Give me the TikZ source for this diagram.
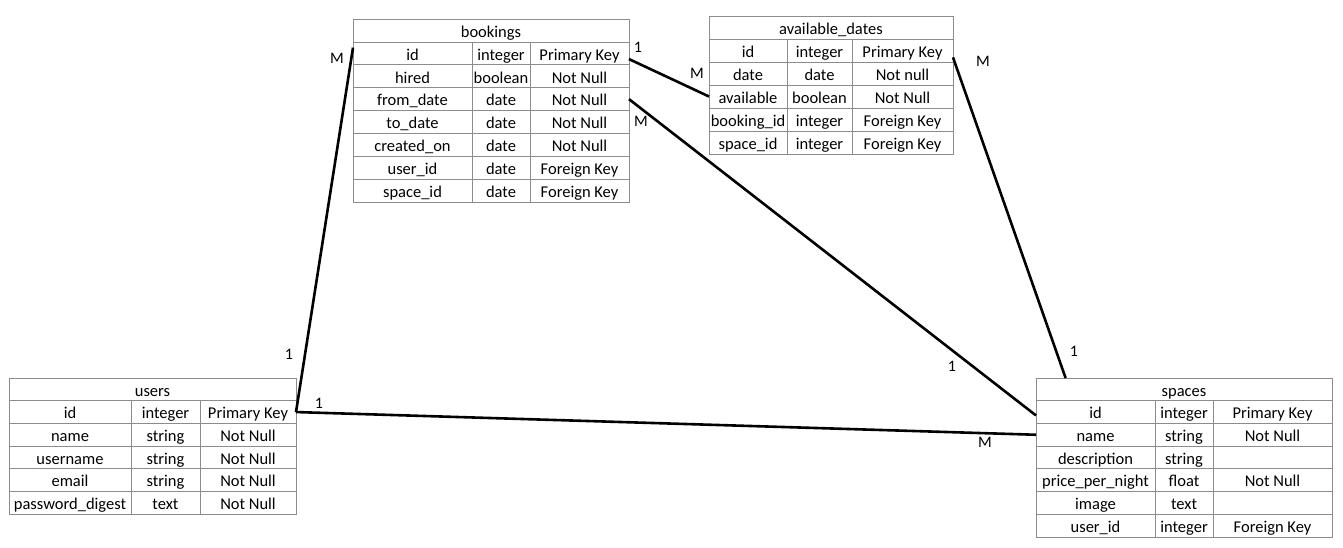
\documentclass[tikz,border=0pt]{standalone}
\usepackage{fontspec}
\setmainfont{Carlito}
\usetikzlibrary{calc}
\tikzset{
 cellbox/.style={draw=black!45, line width=0.8pt, rectangle, inner sep=0pt, outer sep=0pt, font=\fontsize{16.5}{19}\selectfont, text height=15pt, text depth=1.5pt},
 rel/.style={line width=2.6pt, black},
 card/.style={font=\fontsize{16}{19}\selectfont, inner sep=0pt}
}
\newcommand{\dbtitle}[1]{\node[cellbox, anchor=north west, minimum width={(\xD-\xA)*1pt}, minimum height=\tH pt] (\tN-0) at (\xA,\tY) {#1};}
\newcommand{\dbrow}[4]{\pgfmathsetmacro\rY{\tY+#1*\tH}%
 \node[cellbox, anchor=north west, minimum width={(\xB-\xA)*1pt}, minimum height=\tH pt] (\tN-#1-1) at (\xA,\rY) {#2};
 \node[cellbox, anchor=north west, minimum width={(\xC-\xB)*1pt}, minimum height=\tH pt] (\tN-#1-2) at (\xB,\rY) {#3};
 \node[cellbox, anchor=north west, minimum width={(\xD-\xC)*1pt}, minimum height=\tH pt] (\tN-#1-3) at (\xC,\rY) {#4};}
\begin{document}
\begin{tikzpicture}[x=1pt,y=-1pt]
\useasboundingbox (0,0) rectangle (1343,547);
% bookings
\begin{scope}
\def\tN{bookings}\def\xA{353}\def\xB{472}\def\xC{530}\def\xD{629}\def\tY{19}\def\tH{22.9}
\dbtitle{bookings}
\dbrow{1}{id}{integer}{Primary Key}
\dbrow{2}{hired}{boolean}{Not Null}
\dbrow{3}{from\_date}{date}{Not Null}
\dbrow{4}{to\_date}{date}{Not Null}
\dbrow{5}{created\_on}{date}{Not Null}
\dbrow{6}{user\_id}{date}{Foreign Key}
\dbrow{7}{space\_id}{date}{Foreign Key}
\end{scope}
% available_dates
\begin{scope}
\def\tN{available}\def\xA{709}\def\xB{787}\def\xC{852}\def\xD{953}\def\tY{16}\def\tH{23}
\dbtitle{available\_dates}
\dbrow{1}{id}{integer}{Primary Key}
\dbrow{2}{date}{date}{Not null}
\dbrow{3}{available}{boolean}{Not Null}
\dbrow{4}{booking\_id}{integer}{Foreign Key}
\dbrow{5}{space\_id}{integer}{Foreign Key}
\end{scope}
% users
\begin{scope}
\def\tN{users}\def\xA{9}\def\xB{131}\def\xC{200}\def\xD{296}\def\tY{378}\def\tH{22.7}
\dbtitle{users}
\dbrow{1}{id}{integer}{Primary Key}
\dbrow{2}{name}{string}{Not Null}
\dbrow{3}{username}{string}{Not Null}
\dbrow{4}{email}{string}{Not Null}
\dbrow{5}{password\_digest}{text}{Not Null}
\end{scope}
% spaces
\begin{scope}
\def\tN{spaces}\def\xA{1036}\def\xB{1155}\def\xC{1213}\def\xD{1332}\def\tY{378}\def\tH{22.7}
\dbtitle{spaces}
\dbrow{1}{id}{integer}{Primary Key}
\dbrow{2}{name}{string}{Not Null}
\dbrow{3}{description}{string}{}
\dbrow{4}{price\_per\_night}{float}{Not Null}
\dbrow{5}{image}{text}{}
\dbrow{6}{user\_id}{integer}{Foreign Key}
\end{scope}
% relations
\draw[rel] (users-1-3.east) -- ($(bookings-1-1.north west)!0.25!(bookings-1-1.south west)$);
\draw[rel] (users-1-3.east) -- (spaces-2-1.west);
\draw[rel] (bookings-3-3.east) -- ($(spaces-1-1.north west)!0.65!(spaces-1-1.south west)$);
\draw[rel] ($(bookings-1-3.north east)!0.75!(bookings-1-3.south east)$) -- (available-3-1.west);
\draw[rel] ($(available-1-3.north east)!0.8!(available-1-3.south east)$) -- ($(spaces-0.north west)!0.1!(spaces-0.north east)$);
% cardinalities
\node[card] (c1) at (337,58) {M};
\node[card] (c2) at (638,47) {1};
\node[card] (c3) at (697,73) {M};
\node[card] (c4) at (641,121) {M};
\node[card] (c5) at (983,61) {M};
\node[card] (c6) at (1074,351) {1};
\node[card] (c7) at (952,366) {1};
\node[card] (c8) at (289,354) {1};
\node[card] (c9) at (319,403) {1};
\node[card] (c10) at (985,442) {M};
\end{tikzpicture}
\end{document}
